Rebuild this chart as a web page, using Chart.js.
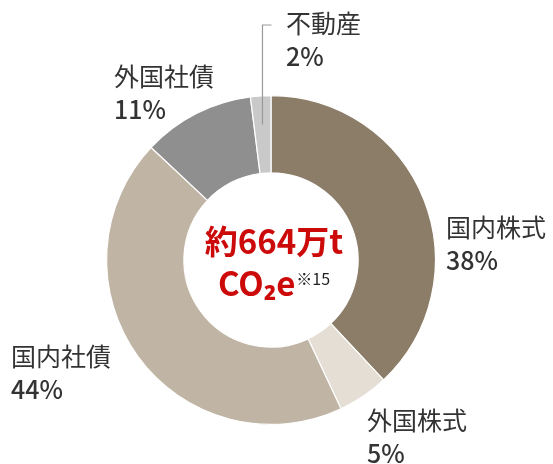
<!doctype html>
<html lang="ja">
<head>
<meta charset="utf-8">
<title>CO2e</title>
<style>
  * { margin: 0; padding: 0; }
  body { background: #fff; }
  .chartBox { width: 553px; height: 464px; position: relative; }
</style>
</head>
<body>
<div class="chartBox">
  <canvas id="myChart" width="553" height="464"></canvas>
</div>
<script src="https://cdn.jsdelivr.net/npm/chart.js/dist/chart.umd.min.js"></script>
<script>
  // data
  const categories = ['国内株式', '外国株式', '国内社債', '外国社債', '不動産'];
  const shares = [38, 5, 44, 11, 2];
  const colors = ['#8b7d68', '#e4ded4', '#c0b5a5', '#8f8f8f', '#c9c9c9'];
  const centerLine1 = '約664万t';
  const centerLine2 = 'CO₂e';
  const centerNote = '※15';

  // label anchor (left x, first line middle y) for each slice
  const labelPos = [
    [446, 227],
    [367, 420],
    [11, 356],
    [114, 76],
    [286, 23]
  ];

  const FONT = '"Noto Sans CJK JP", "Noto Sans", sans-serif';

  const labelPlugin = {
    id: 'labels',
    afterDatasetsDraw(chart) {
      const ctx = chart.ctx;
      const meta = chart.getDatasetMeta(0);
      ctx.save();
      ctx.textAlign = 'left';
      ctx.textBaseline = 'middle';
      categories.forEach((name, i) => {
        const [x, y] = labelPos[i];
        ctx.fillStyle = '#333';
        ctx.font = '400 25px ' + FONT;
        ctx.fillText(name, x, y);
        ctx.font = '500 25px ' + FONT;
        ctx.fillText(shares[i] + '%', x, y + 33);
      });

      // leader line for the small slice
      const arc = meta.data[4];
      const mid = (arc.startAngle + arc.endAngle) / 2;
      const r = arc.innerRadius + (arc.outerRadius - arc.innerRadius) * 0.63;
      const sx = arc.x + Math.cos(mid) * r;
      const sy = arc.y + Math.sin(mid) * r;
      ctx.strokeStyle = '#999';
      ctx.lineWidth = 1.2;
      ctx.beginPath();
      ctx.moveTo(sx, sy);
      ctx.lineTo(sx, 25);
      ctx.lineTo(sx + 9, 25);
      ctx.stroke();

      // centre text
      const cx = arc.x, cy = arc.y;
      ctx.fillStyle = '#cc0a0a';
      ctx.textAlign = 'center';
      ctx.font = '700 33px ' + FONT;
      ctx.fillText(centerLine1, cx + 3, cy - 19);
      ctx.textAlign = 'left';
      const w2 = ctx.measureText(centerLine2).width;
      ctx.font = '400 16px ' + FONT;
      const w3 = ctx.measureText(centerNote).width;
      const x0 = cx + 3 - (w2 + w3 + 1) / 2;
      ctx.font = '700 33px ' + FONT;
      ctx.fillText(centerLine2, x0, cy + 23);
      ctx.fillStyle = '#222';
      ctx.font = '400 16px ' + FONT;
      ctx.fillText(centerNote, x0 + w2 + 1, cy + 19);
      ctx.restore();
    }
  };

  new Chart(document.getElementById('myChart'), {
    type: 'doughnut',
    data: {
      labels: categories,
      datasets: [{
        data: shares,
        backgroundColor: colors,
        borderColor: '#fff',
        borderWidth: 1.2
      }]
    },
    options: {
      responsive: false,
      animation: false,
      cutout: '53%',
      layout: { padding: { top: 95, bottom: 39, left: 106, right: 117 } },
      plugins: {
        legend: { display: false },
        tooltip: { enabled: false }
      }
    },
    plugins: [labelPlugin]
  });
</script>
</body>
</html>
